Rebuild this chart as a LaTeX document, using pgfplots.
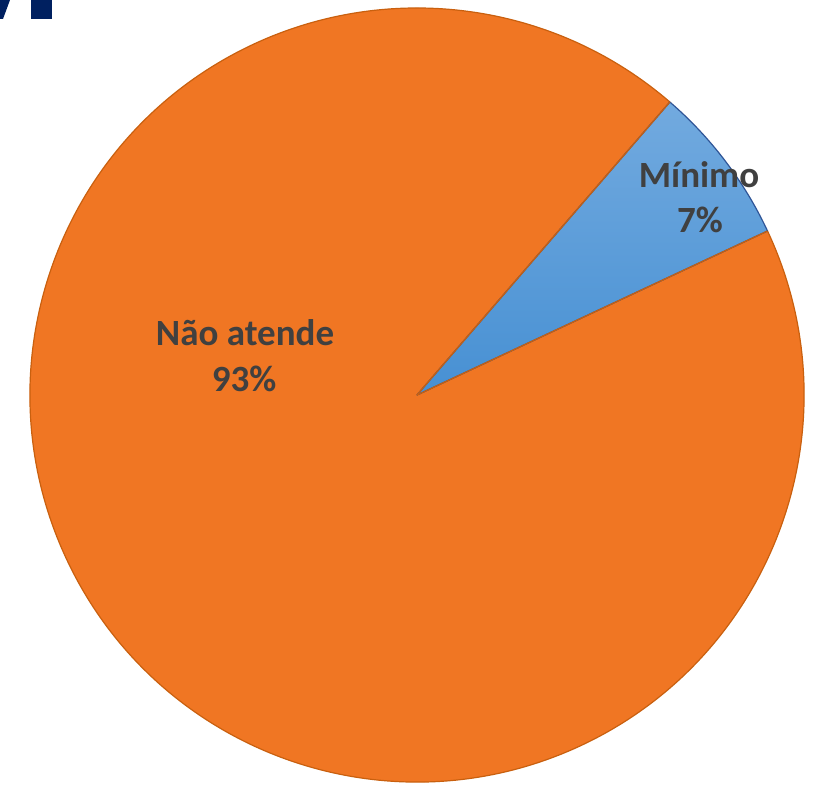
\documentclass[border=0pt]{standalone}
\usepackage{pgfplots}
\pgfplotsset{compat=1.18}
\usepackage{pgfplotstable}
\usepackage{fontspec}
\setmainfont{Carlito}
\definecolor{orangeF}{HTML}{F07623}
\definecolor{orangeE}{HTML}{C9600F}
\definecolor{blueT}{HTML}{72AADF}
\definecolor{blueB}{HTML}{4790D3}
\definecolor{blueE}{HTML}{2F5597}
\definecolor{txt}{HTML}{404040}
\definecolor{navy}{HTML}{002060}
\pgfplotstableread{
label value
Minimo 6.7
Nao 93.3
}\piedata
\begin{document}%
\pgfplotstablegetelem{0}{value}\of\piedata\let\vA\pgfplotsretval%
\pgfplotstablegetelem{1}{value}\of\piedata\let\vB\pgfplotsretval%
\pgfmathsetmacro\startang{49.2}%
\pgfmathsetmacro\midang{\startang-3.6*\vA}%
\pgfmathsetmacro\endang{\midang-3.6*\vB}%
\begin{tikzpicture}
\begin{axis}[
  width=409pt, height=392.5pt, scale only axis,
  xmin=0, xmax=818, ymin=0, ymax=785,
  xtick=\empty, ytick=\empty,
  hide axis, clip=false,
]
\coordinate (BL) at (axis cs:0,0);
\coordinate (TR) at (axis cs:818,785);
% slices
\filldraw[fill=orangeF, draw=orangeE, line width=0.6pt, line join=round]
  (axis cs:417,390) -- ++(\midang:193.5pt) arc[start angle=\midang, end angle=\endang, radius=193.5pt] -- cycle;
\shadedraw[top color=blueT, bottom color=blueB, draw=blueE, line width=0.6pt, line join=round]
  (axis cs:417,390) -- ++(\startang:193.5pt) arc[start angle=\startang, end angle=\midang, radius=193.5pt] -- cycle;
\draw[orangeE, line width=0.6pt] (axis cs:417,390) -- ++(\startang:193.5pt);
\draw[orangeE, line width=0.6pt] (axis cs:417,390) -- ++(\midang:193.5pt);
% labels
\begin{scope}[every node/.style={font=\fontsize{18.5}{22}\selectfont\bfseries, text=txt, inner sep=0pt, anchor=base}]
\node at (axis cs:245,439) {Não atende};
\node at (axis cs:244,393) {93\%};
\node at (axis cs:699,597) {Mínimo};
\node at (axis cs:700,552) {7\%};
\end{scope}
% cropped title fragment at top-left
\fill[navy] (axis cs:0,785) -- (axis cs:10,785) -- (axis cs:3,766) -- (axis cs:0,766) -- cycle;
\fill[navy] (axis cs:31,785) rectangle (axis cs:52,766);
\end{axis}
\pgfresetboundingbox
\useasboundingbox (BL) rectangle (TR);
\end{tikzpicture}%
\end{document}
